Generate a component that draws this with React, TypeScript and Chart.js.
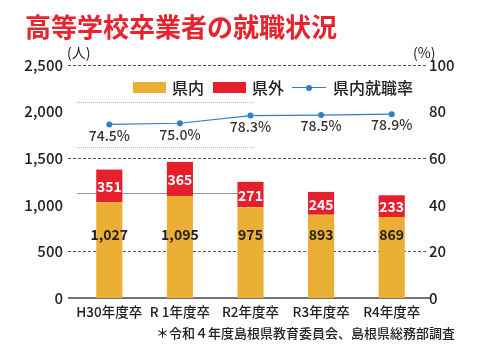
import React, { useEffect, useRef } from 'react';
import { Chart, registerables } from 'chart.js';
Chart.register(...registerables);

const titleText = '高等学校卒業者の就職状況';
const categories = ['H30年度卒', 'R 1年度卒', 'R2年度卒', 'R3年度卒', 'R4年度卒'];
const inPref = [1027, 1095, 975, 893, 869];
const outPref = [351, 365, 271, 245, 233];
const rate = [74.5, 75.0, 78.3, 78.5, 78.9];
const seriesNames = ['県内', '県外', '県内就職率'];
const leftUnit = '(人)';
const rightUnit = '(%)';
const dashedGridValues = [2500, 1500, 500];
const footnote = '＊令和４年度島根県教育委員会、島根県総務部調査';

const YELLOW = '#ECAF35';
const RED = '#E51F2B';
const BLUE = '#2F7FC6';
const FONT = '"Noto Sans CJK JP", "Noto Sans", sans-serif';

const gridPlugin = {
  id: 'customGrid',
  beforeDatasetsDraw(chart: any) {
    const { ctx, chartArea, scales } = chart;
    const y = scales.y;
    const x = scales.x;
    const { left, right } = chartArea;
    ctx.save();
    ctx.lineWidth = 1;
    ctx.strokeStyle = '#555';
    ctx.setLineDash([3, 2]);
    dashedGridValues.forEach((v) => {
      const py = Math.round(y.getPixelForValue(v)) + 0.5;
      ctx.beginPath();
      ctx.moveTo(left - 6, py);
      ctx.lineTo(right, py);
      ctx.stroke();
    });
    // decorative light dotted lines and grey rule seen in reference
    ctx.strokeStyle = '#bbb';
    ctx.setLineDash([1, 1]);
    const xEnd = x.getPixelForValue(2) + 3;
    [2105, 1620].forEach((v) => {
      const py = Math.round(y.getPixelForValue(v)) + 0.5;
      ctx.beginPath();
      ctx.moveTo(left + 3, py);
      ctx.lineTo(xEnd, py);
      ctx.stroke();
    });
    ctx.setLineDash([]);
    ctx.strokeStyle = '#999';
    const pyG = Math.round(y.getPixelForValue(1127)) + 0.5;
    ctx.beginPath();
    ctx.moveTo(left + 3, pyG);
    ctx.lineTo(x.getPixelForValue(2) - 13, pyG);
    ctx.stroke();
    // base axis line
    ctx.strokeStyle = '#444';
    ctx.lineWidth = 1.6;
    const p0 = y.getPixelForValue(0);
    ctx.beginPath();
    ctx.moveTo(left - 6, p0);
    ctx.lineTo(right + 3, p0);
    ctx.stroke();
    ctx.restore();
  },
};

const labelPlugin = {
  id: 'valueLabels',
  afterDatasetsDraw(chart: any) {
    const { ctx, scales } = chart;
    ctx.save();
    ctx.textAlign = 'center';
    ctx.textBaseline = 'middle';
    // red segment labels
    const redMeta = chart.getDatasetMeta(1);
    ctx.fillStyle = '#fff';
    ctx.font = `bold 14px ${FONT}`;
    redMeta.data.forEach((el: any, i: number) => {
      ctx.fillText(String(outPref[i]), el.x, (el.y + el.base) / 2 + 1);
    });
    // yellow labels
    const yelMeta = chart.getDatasetMeta(0);
    ctx.fillStyle = '#222';
    ctx.font = `bold 14px ${FONT}`;
    const ly = scales.y.getPixelForValue(675);
    yelMeta.data.forEach((el: any, i: number) => {
      ctx.fillText(inPref[i].toLocaleString('en-US'), el.x, ly);
    });
    // line labels
    const lineMeta = chart.getDatasetMeta(2);
    ctx.fillStyle = '#333';
    ctx.font = `500 14px ${FONT}`;
    lineMeta.data.forEach((el: any, i: number) => {
      ctx.fillText(rate[i].toFixed(1) + '%', el.x, el.y + 11);
    });
    ctx.restore();
  },
};

export default function App() {
  const ref = useRef<HTMLCanvasElement>(null);
  useEffect(() => {
    if (!ref.current) return;
    const chart = new Chart(ref.current, {
      type: 'bar',
      data: {
        labels: categories,
        datasets: [
          {
            type: 'bar',
            label: seriesNames[0],
            data: inPref,
            backgroundColor: YELLOW,
            barPercentage: 0.37,
            categoryPercentage: 1,
            yAxisID: 'y',
            stack: 's',
            order: 1,
          },
          {
            type: 'bar',
            label: seriesNames[1],
            data: outPref,
            backgroundColor: RED,
            barPercentage: 0.37,
            categoryPercentage: 1,
            yAxisID: 'y',
            stack: 's',
            order: 1,
          },
          {
            type: 'line',
            label: seriesNames[2],
            data: rate,
            borderColor: BLUE,
            backgroundColor: BLUE,
            borderWidth: 1.2,
            pointRadius: 3,
            pointBorderWidth: 0,
            yAxisID: 'y1',
            order: 0,
          } as any,
        ],
      },
      options: {
        animation: false,
        responsive: false,
        devicePixelRatio: 1,
        layout: { padding: { top: 65, left: 0, right: 0, bottom: 0 } },
        plugins: { legend: { display: false }, tooltip: { enabled: false }, title: { display: false } },
        scales: {
          x: {
            stacked: true,
            grid: { display: false, drawTicks: false },
            border: { display: false },
            ticks: {
              color: '#222',
              font: { family: FONT, size: 13.5, weight: 500 as any },
              padding: 6,
              maxRotation: 0,
              minRotation: 0,
              autoSkip: false,
            },
            afterFit: (s: any) => { s.height = 53; },
          },
          y: {
            stacked: true,
            position: 'left',
            min: 0,
            max: 2500,
            grid: { display: false, drawTicks: false },
            border: { display: false },
            ticks: {
              stepSize: 500,
              padding: 11,
              color: '#222',
              font: { family: FONT, size: 15, weight: 500 as any },
              callback: (v: any) => Number(v).toLocaleString('en-US'),
            },
            afterFit: (s: any) => { s.width = 74; },
          },
          y1: {
            position: 'right',
            min: 0,
            max: 100,
            grid: { display: false, drawTicks: false },
            border: { display: false },
            ticks: {
              stepSize: 20,
              padding: 2,
              color: '#222',
              font: { family: FONT, size: 15, weight: 500 as any },
            },
            afterFit: (s: any) => { s.width = 53; },
          },
        },
      },
      plugins: [gridPlugin, labelPlugin],
    });
    return () => chart.destroy();
  }, []);

  const legendText: React.CSSProperties = { fontSize: 16, color: '#222', fontWeight: 500, lineHeight: '16px' };

  return (
    <div style={{ position: 'absolute', left: 0, top: 0, width: 480, height: 351, background: '#fff', fontFamily: FONT }}>
      <canvas ref={ref} width={480} height={351} style={{ position: 'absolute', left: 0, top: 0, width: 480, height: 351 }} />
      <div style={{ position: 'absolute', left: 25, top: 12, fontSize: 26, lineHeight: '28px', fontWeight: 700, color: '#E8232E', whiteSpace: 'nowrap' }}>
        {titleText}
      </div>
      <div style={{ position: 'absolute', left: 67, top: 44, fontSize: 14, lineHeight: '16px', color: '#222' }}>{leftUnit}</div>
      <div style={{ position: 'absolute', left: 413, top: 44, fontSize: 14, lineHeight: '16px', color: '#222' }}>{rightUnit}</div>
      <div style={{ position: 'absolute', left: 133, top: 79, display: 'flex', alignItems: 'center', whiteSpace: 'nowrap' }}>
        <span style={{ display: 'inline-block', width: 33, height: 11, background: YELLOW }} />
        <span style={{ ...legendText, marginLeft: 6 }}>{seriesNames[0]}</span>
        <span style={{ display: 'inline-block', width: 33, height: 11, background: RED, marginLeft: 9 }} />
        <span style={{ ...legendText, marginLeft: 6 }}>{seriesNames[1]}</span>
        <span style={{ position: 'relative', display: 'inline-block', width: 34, height: 11, marginLeft: 8 }}>
          <span style={{ position: 'absolute', left: 0, right: 0, top: 5, height: 1.2, background: BLUE }} />
          <span style={{ position: 'absolute', left: 14, top: 3, width: 6, height: 6, borderRadius: 3, background: BLUE }} />
        </span>
        <span style={{ ...legendText, marginLeft: 7 }}>{seriesNames[2]}</span>
      </div>
      <div style={{ position: 'absolute', right: 25, top: 325, fontSize: 13, lineHeight: '16px', color: '#222', fontWeight: 500, whiteSpace: 'nowrap' }}>
        {footnote}
      </div>
    </div>
  );
}
